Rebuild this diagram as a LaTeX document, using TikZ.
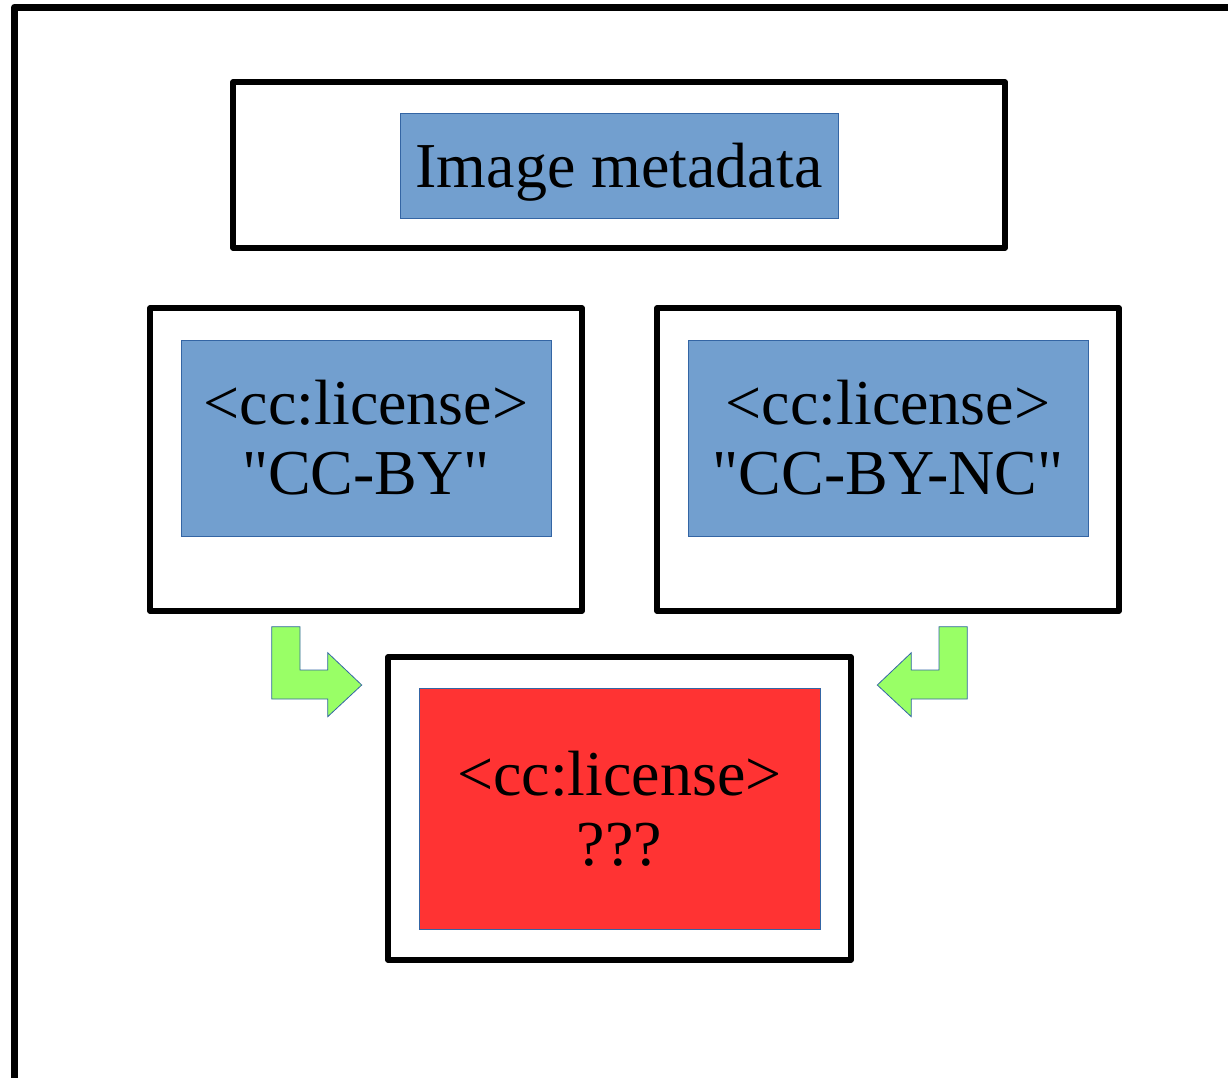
\documentclass[tikz,border=0pt]{standalone}
\usepackage{fontspec}
\setmainfont{Liberation Serif}[Ligatures=TeXOff]
\usepackage{xcolor}
\usepackage{tikz}
\usetikzlibrary{positioning}
\definecolor{metablue}{HTML}{729FCF}
\definecolor{metaline}{HTML}{3465A4}
\definecolor{unknownred}{HTML}{FF3333}
\definecolor{mergegreen}{HTML}{99FF66}
\tikzset{
	frame/.style={draw, line width=5.5pt, line join=round, inner sep=0pt, fill=white},
	field/.style={draw=metaline, line width=0.6pt, fill=metablue, inner sep=0pt, align=center,
		font=\fontsize{64}{70}\selectfont},
	unknown/.style={field, fill=unknownred},
	merge/.style={draw=metaline, line width=0.8pt, fill=mergegreen, line join=miter}
}
\newcommand{\mergearrow}[3]{
	\begin{scope}[shift={(#1,#2)}, xscale=#3]
		\draw[merge] (0,0) -- (28.3,0) -- (28.3,43.3) -- (56,43.3) -- (56,26) -- (90,58.3)
			-- (56,90) -- (56,72.3) -- (0,72.3) -- cycle;
	\end{scope}
}

\begin{document}
\begin{tikzpicture}[x=1pt, y=-1pt]
			\path[use as bounding box] (0,0) rectangle (1228,1077);
			
			% outer page frame, cut off on the right and at the bottom
			\begin{scope}
				\clip (0,0) rectangle (1228,1077);
				\draw[line width=7pt, line join=round] (14.5,1100) -- (14.5,7) -- (1250,7);
			\end{scope}
			
			% image metadata
			\node[frame, minimum width=772pt, minimum height=166pt] (meta-frame) at (619,165) {};
			\node[field, minimum width=438pt, minimum height=105pt, text height=58pt, text depth=14pt] (meta) at (619,165.5) {Image metadata};
			
			% the two licences
			\node[frame, minimum width=432pt, minimum height=303pt] (by-frame) at (366,459.5) {};
			\node[field, minimum width=370pt, minimum height=196pt] (by) at (366,438) {<cc:license>\\"CC-BY"};
			
			\node[frame, minimum width=462pt, minimum height=303pt] (bync-frame) at (888,459.5) {};
			\node[field, minimum width=400pt, minimum height=196pt] (bync) at (888,438) {<cc:license>\\"CC-BY-NC"};
			
			% the merged result
			\node[frame, minimum width=463pt, minimum height=303pt] (result-frame) at (619.5,808.5) {};
			\node[unknown, minimum width=401pt, minimum height=241pt] (result) at (619.5,808.5) {<cc:license>\\???};
			
			\mergearrow{271.7}{626.7}{1}
			\mergearrow{967.3}{626.7}{-1}
			
		\end{tikzpicture}
\end{document}
